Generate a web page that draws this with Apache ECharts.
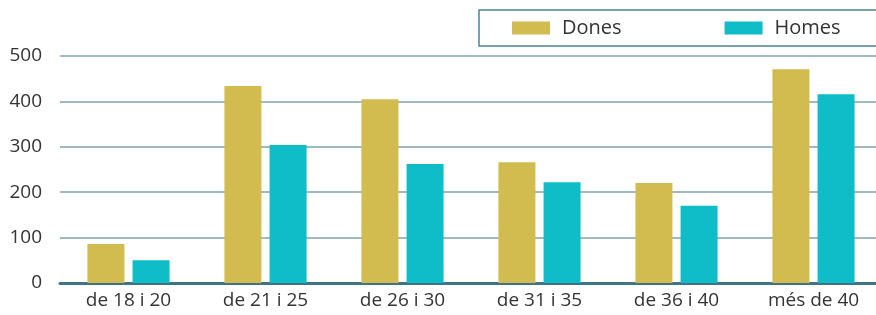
<!DOCTYPE html>
<html>
<head>
<meta charset="utf-8">
<script src="https://cdn.jsdelivr.net/npm/echarts@6/dist/echarts.min.js"></script>
<style>
  html, body { margin: 0; padding: 0; background: #fff; }
  #chart { width: 876px; height: 315px; }
</style>
</head>
<body>
<div id="chart"></div>
<script>
// Data
var categories = ['de 18 i 20', 'de 21 i 25', 'de 26 i 30', 'de 31 i 35', 'de 36 i 40', 'més de 40'];
var dones = [86, 434, 405, 266, 220, 471];
var homes = [50, 304, 262, 222, 170, 416];

var chart = echarts.init(document.getElementById('chart'));

chart.setOption({
    animation: false,
    textStyle: {
        fontFamily: '"Open Sans", "Noto Sans", sans-serif',
        color: '#333'
    },
    legend: {
        data: ['Dones', 'Homes'],
        left: 479,
        top: 10,
        width: 389,
        padding: [8, 60, 8, 33],
        icon: 'rect',
        itemWidth: 38,
        itemHeight: 13,
        itemGap: 103,
        borderColor: '#4e8496',
        borderWidth: 1.5,
        selectedMode: false,
        textStyle: {
            fontSize: 20,
            color: '#333',
            padding: [0, 0, 0, 7]
        }
    },
    grid: {
        left: 60,
        width: 822,
        top: 56,
        height: 227,
        outerBoundsMode: 'none'
    },
    xAxis: {
        type: 'category',
        data: categories,
        axisLine: { lineStyle: { color: '#3f7488', width: 3 } },
        axisTick: { show: false },
        axisLabel: {
            fontSize: 19,
            color: '#333',
            margin: 8
        }
    },
    yAxis: {
        type: 'value',
        min: 0,
        max: 500,
        interval: 100,
        axisLine: { show: false },
        axisTick: { show: false },
        axisLabel: {
            fontSize: 19,
            color: '#333',
            margin: 18
        },
        splitLine: { lineStyle: { color: '#7fa3af', width: 1.5 } }
    },
    series: [
        {
            name: 'Dones',
            type: 'bar',
            data: dones,
            barWidth: 37,
            barGap: '22%',
            itemStyle: { color: '#d2bb4f' }
        },
        {
            name: 'Homes',
            type: 'bar',
            data: homes,
            barWidth: 37,
            itemStyle: { color: '#0ebdc8' }
        }
    ]
});
</script>
</body>
</html>
